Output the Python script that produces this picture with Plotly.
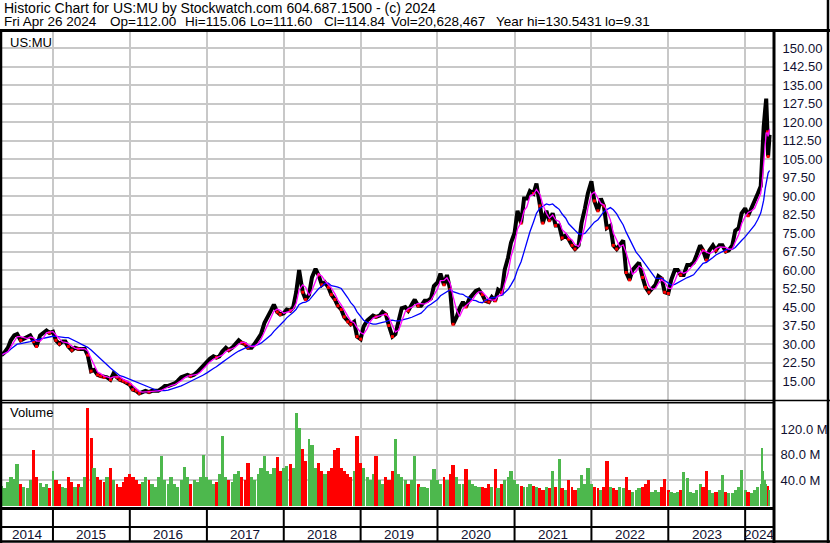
import plotly.graph_objects as go
import pandas as pd
import numpy as np

W, H = 830, 543

# semi-monthly closes (1st / 15th), May 2014 .. Mar 15 2024
closes = [
    # 2014 (May-Dec)
    25.5, 26.5, 28.5, 31.5, 33.5, 34.0, 31.5, 32.0, 33.0, 33.5, 31.0, 29.0, 33.5, 34.5, 35.5, 34.5,
    # 2015
    35.0, 31.5, 30.0, 31.0, 31.0, 29.0, 27.5, 28.5, 28.0, 28.0, 28.0, 25.5,
    19.0, 19.5, 17.5, 17.0, 16.5, 16.5, 15.5, 18.0, 16.5, 15.5, 15.0, 14.5,
    # 2016
    13.5, 11.5, 11.0, 10.0, 10.5, 11.0, 10.5, 11.0, 11.0, 11.0, 12.0, 13.0,
    13.0, 13.5, 14.0, 15.0, 16.5, 17.0, 17.5, 17.0, 17.5, 18.5, 20.0, 21.5,
    # 2017
    22.5, 24.0, 25.0, 24.5, 25.0, 27.0, 28.5, 27.5, 28.5, 30.0, 31.5, 30.5,
    30.0, 28.5, 28.5, 30.0, 32.0, 34.0, 38.5, 40.5, 43.5, 46.0, 43.0, 42.0,
    # 2018
    42.5, 44.0, 43.5, 45.0, 51.0, 60.0, 51.0, 48.0, 50.0, 57.0, 60.5, 58.0,
    54.0, 55.0, 53.0, 50.0, 48.0, 45.5, 44.0, 41.0, 39.0, 38.0, 39.0, 33.0,
    # 2019
    32.0, 37.0, 39.5, 40.5, 41.5, 41.0, 41.5, 43.0, 42.0, 37.5, 33.0, 34.0,
    40.0, 44.5, 45.0, 43.5, 46.0, 48.0, 45.5, 45.5, 47.5, 47.5, 48.5, 53.5,
    # 2020
    55.0, 58.5, 54.0, 58.0, 52.0, 38.0, 41.0, 44.5, 47.0, 45.0, 48.5, 50.0,
    51.5, 52.0, 50.0, 47.5, 47.0, 49.0, 47.5, 52.0, 51.0, 60.0, 65.0, 71.0,
    # 2021
    75.0, 84.0, 79.0, 89.0, 89.0, 92.0, 91.0, 95.0, 86.0, 79.0, 84.0, 80.0,
    83.0, 78.0, 78.0, 73.0, 74.0, 72.5, 70.0, 68.5, 70.0, 79.0, 85.0, 91.0,
    # 2022
    96.0, 88.0, 84.0, 89.0, 86.0, 77.0, 78.0, 70.0, 68.5, 70.0, 72.0, 59.0,
    56.0, 60.0, 62.0, 63.0, 57.0, 53.0, 51.0, 52.5, 54.0, 57.5, 56.5, 51.0,
    # 2023
    50.5, 56.0, 60.0, 60.0, 58.0, 58.0, 62.0, 62.0, 63.0, 66.0, 70.0, 68.0,
    64.0, 68.0, 70.0, 68.0, 70.0, 70.0, 67.5, 68.0, 70.0, 76.0, 77.0, 83.0,
    # 2024 (Jan - Mar 15)
    85.0, 82.0, 85.0, 88.0, 91.0, 94.0,
]

volumes_m = [
    32, 28, 38, 45, 42, 66, 34, 30, 28, 40, 88, 45, 36, 30, 34, 28,
    55, 40, 35, 30, 28, 45, 38, 30, 35, 30, 45, 153, 107, 60, 45, 40, 38, 45, 60, 40, 35, 30, 38, 45,
    50, 45, 40, 35, 38, 45, 40, 35, 30, 45, 78, 40, 35, 45, 35, 30, 40, 61, 45, 35, 40, 38, 45, 80,
    45, 40, 35, 38, 50, 110, 45, 40, 38, 50, 55, 45, 40, 68, 45, 40, 50, 60, 78, 55, 50, 60, 76, 55,
    60, 62, 65, 60, 146, 122, 89, 70, 104, 95, 60, 67, 55, 50, 55, 60, 88, 90, 60, 55, 50, 45, 55, 110,
    67, 60, 45, 40, 50, 78, 40, 35, 45, 40, 55, 104, 50, 45, 40, 35, 40, 78, 35, 30, 30, 28, 40, 58,
    40, 35, 45, 40, 50, 64, 45, 35, 35, 58, 40, 35, 32, 30, 30, 28, 35, 30, 58, 28, 35, 40, 45, 54,
    40, 35, 32, 30, 30, 35, 32, 30, 28, 25, 30, 28, 55, 30, 74, 28, 25, 40, 30, 25, 28, 48, 35, 60,
    35, 30, 28, 25, 30, 71, 30, 28, 25, 30, 28, 45, 25, 22, 25, 28, 30, 35, 40, 22, 25, 22, 30, 42,
    25, 22, 20, 22, 25, 53, 44, 22, 20, 25, 35, 30, 54, 25, 20, 22, 25, 48, 22, 20, 20, 25, 30, 56,
    25, 22, 20, 25, 30, 35,
]

# last weeks, more detail around the 2024 spike
tail_dates = ["2024-03-22", "2024-03-29", "2024-04-05", "2024-04-10", "2024-04-16", "2024-04-19", "2024-04-26"]
tail_closes = [111.0, 118.0, 125.0, 129.5, 116.0, 106.0, 114.84]
tail_volumes_m = [91, 55, 40, 35, 30, 32, 25]

years = list(range(2015, 2025))
year_labels = [str(y) for y in range(2014, 2025)]
price_ticks = [15 + 7.5 * i for i in range(19)]
vol_ticks = [40e6, 80e6, 120e6]
vol_ticktext = ["40.0 M", "80.0 M", "120.0 M"]

title = "Historic Chart for US:MU by Stockwatch.com 604.687.1500 - (c) 2024"
quote_parts = ["Fri Apr 26 2024", "Op=112.00", "Hi=115.06", "Lo=111.60", "Cl=114.84",
               "Vol=20,628,467", "Year hi=130.5431", "lo=9.31"]

dates = list(pd.date_range("2014-05-01", periods=len(closes), freq="SMS")) + list(pd.to_datetime(tail_dates))
close_all = closes + tail_closes
vol_all = [v * 1e6 for v in volumes_m + tail_volumes_m]

s = pd.Series(close_all, index=pd.DatetimeIndex(dates))
ma_fast = s.rolling("40D").mean()
ma_slow = s.rolling("150D").mean()

chg = np.diff([close_all[0]] + close_all)
bar_colors = ["#4DB84D" if c >= 0 else "#FF0000" for c in chg]
gaps = np.diff([d.value for d in dates] + [dates[-1].value + 7 * 86400e9]) / 1e6
bar_widths = list(gaps * 0.98)

X0, X1 = "2014-05-04", "2024-05-17"


def px_x(x):
    return x / W


def px_y(y):
    return 1 - y / H


fig = go.Figure()

fig.add_trace(go.Scatter(x=dates, y=close_all, mode="lines", line=dict(color="black", width=4),
                         xaxis="x", yaxis="y", showlegend=False))
down = [i for i, c in enumerate(chg) if c < 0]
fig.add_trace(go.Scatter(x=[dates[i] for i in down], y=[close_all[i] for i in down], mode="markers",
                         marker=dict(color="#FF0000", size=3, symbol="square"),
                         xaxis="x", yaxis="y", showlegend=False))
fig.add_trace(go.Scatter(x=dates, y=ma_slow.values, mode="lines", line=dict(color="#0000FF", width=1.3),
                         xaxis="x", yaxis="y", showlegend=False))
fig.add_trace(go.Scatter(x=dates, y=ma_fast.values, mode="lines", line=dict(color="#FF00FF", width=1.3),
                         xaxis="x", yaxis="y", showlegend=False))

fig.add_trace(go.Bar(x=dates, y=vol_all, width=bar_widths, marker=dict(color=bar_colors, line=dict(width=0)),
                     xaxis="x2", yaxis="y2", showlegend=False))

grid = "#C8C8C8"
year_ticks = [f"{y}-01-01" for y in years]
fig.update_layout(
    width=W, height=H, autosize=False,
    margin=dict(l=0, r=0, t=0, b=0),
    paper_bgcolor="white", plot_bgcolor="white",
    font=dict(family="Arial, Liberation Sans, sans-serif", size=13, color="black"),
    bargap=0,
    xaxis=dict(domain=[px_x(2), px_x(774)], range=[X0, X1], type="date", anchor="y",
               tickvals=year_ticks, showticklabels=False, showgrid=True, gridcolor=grid,
               gridwidth=1.5, zeroline=False, showline=False, ticks=""),
    yaxis=dict(domain=[px_y(400), px_y(32)], range=[7.3, 156.5], side="right", anchor="x",
               tickvals=price_ticks, ticktext=[f"{t:.2f}" for t in price_ticks],
               showgrid=True, gridcolor=grid, gridwidth=1.5, zeroline=False,
               ticks="outside", ticklen=5, tickcolor="rgba(0,0,0,0)",
               tickfont=dict(size=13, color="#101030")),
    xaxis2=dict(domain=[px_x(2), px_x(774)], range=[X0, X1], type="date", anchor="y2", matches="x",
                tickvals=year_ticks, showticklabels=False, showgrid=True, gridcolor=grid,
                gridwidth=1.5, zeroline=False, showline=False, ticks=""),
    yaxis2=dict(domain=[px_y(506), px_y(403)], range=[0, 161e6], side="right", anchor="x2",
                tickvals=vol_ticks, ticktext=vol_ticktext, showgrid=True, gridcolor=grid,
                gridwidth=1.5, zeroline=False, ticks="outside", ticklen=3,
                tickcolor="rgba(0,0,0,0)", tickfont=dict(size=13, color="#101030")),
)

shapes = []


def hline(y, x0=0, x1=W, w=2):
    shapes.append(dict(type="line", xref="paper", yref="paper", x0=px_x(x0), x1=px_x(x1),
                       y0=px_y(y), y1=px_y(y), line=dict(color="black", width=w)))


def vline(x, y0=0, y1=H, w=2):
    shapes.append(dict(type="line", xref="paper", yref="paper", x0=px_x(x), x1=px_x(x),
                       y0=px_y(y0), y1=px_y(y1), line=dict(color="black", width=w)))


hline(30.5, w=3)
hline(400.5, w=1.5)
hline(402.8, 0, 774, w=1.5)
hline(508.5, 0, 774, w=3)
hline(527, 0, 774, w=2)
hline(541.5, w=2.5)
vline(1, 30, H, w=2.5)
vline(774, 30, H, w=3)
vline(828, 0, H, w=2.5)
for y in year_ticks:
    shapes.append(dict(type="line", xref="x", yref="paper", x0=y, x1=y, y0=px_y(508), y1=px_y(541),
                       line=dict(color="black", width=2)))

annotations = [
    dict(text=title, x=px_x(3), y=px_y(7.5), xanchor="left", yanchor="middle", font=dict(size=14)),
    dict(text="US:MU", x=px_x(9), y=px_y(42), xanchor="left", yanchor="middle", font=dict(size=13)),
    dict(text="Volume", x=px_x(9), y=px_y(413), xanchor="left", yanchor="middle", font=dict(size=13)),
]
# quote line, each field at its own place
for txt, xp in zip(quote_parts, [3, 109, 184, 249, 323, 390, 495, 604]):
    annotations.append(dict(text=txt, x=px_x(xp), y=px_y(21.5), xanchor="left", yanchor="middle",
                            font=dict(size=13.5)))

# year labels centred in the visible part of each year
edges = [pd.Timestamp(X0)] + [pd.Timestamp(t) for t in year_ticks] + [pd.Timestamp(X1) - pd.Timedelta(days=3)]
for lab, a, b in zip(year_labels, edges[:-1], edges[1:]):
    annotations.append(dict(text=lab, x=a + (b - a) / 2, xref="x", y=px_y(534.5), yref="paper",
                            xanchor="center", yanchor="middle", showarrow=False,
                            font=dict(size=13.5, color="#101030")))

for a in annotations:
    a.setdefault("xref", "paper")
    a.setdefault("yref", "paper")
    a.setdefault("showarrow", False)
    a["borderpad"] = 0

fig.update_layout(shapes=shapes, annotations=annotations)
fig.write_html("out.html", config={"displayModeBar": False},
               post_script="document.body.style.margin='0';document.body.style.overflow='hidden';")
